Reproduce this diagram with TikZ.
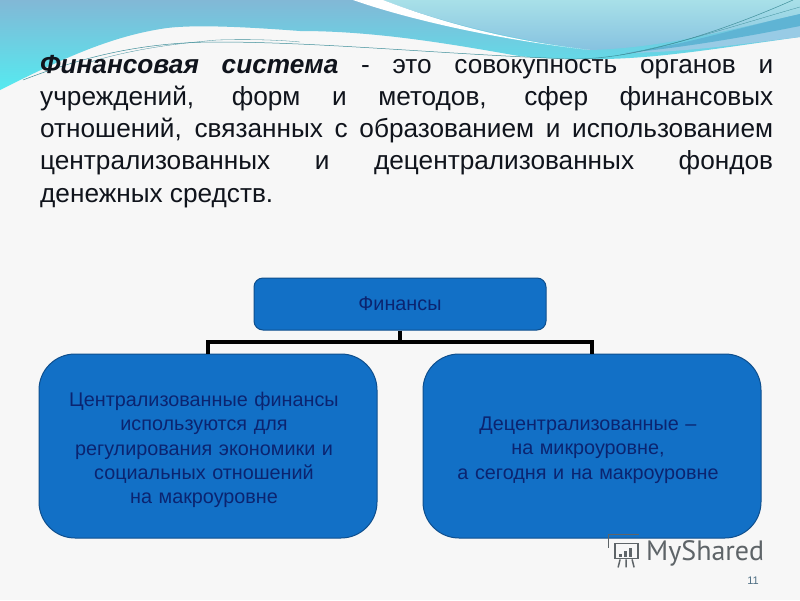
\documentclass[tikz,border=0pt]{standalone}
\usepackage{fontspec}
\usetikzlibrary{positioning}
\setmainfont{Liberation Sans}
\newfontfamily\logofont{PT Sans}
\definecolor{boxblue}{HTML}{1270C6}
\definecolor{boxedge}{HTML}{0E4F8E}
\definecolor{boxtext}{HTML}{0B2470}
\definecolor{headtext}{HTML}{10141C}
\definecolor{wavetop}{HTML}{82B8D6}
\definecolor{wavemid}{HTML}{70C4DC}
\definecolor{wavelow}{HTML}{55EAF0}
\definecolor{waveteal}{HTML}{A8E0E8}
\definecolor{wavesky}{HTML}{86C2E0}
\definecolor{wavedeep}{HTML}{5FB4D4}
\definecolor{waveline}{HTML}{3F8F9A}
\definecolor{logogray}{HTML}{5E6468}
\definecolor{pagegray}{HTML}{4F6F84}
\begin{document}
\begin{tikzpicture}[x=1pt, y=-1pt, node distance=38pt,
    rootbox/.style={rectangle, draw=boxedge, fill=boxblue, line width=1pt, rounded corners=9pt, minimum width=292pt, minimum height=52pt, text=boxtext, font=\fontsize{19.8}{24}\selectfont},
    bigbox/.style={rectangle, draw=boxedge, fill=boxblue, line width=1pt, rounded corners=36pt, minimum width=338pt, minimum height=184pt, text width=320pt, align=center, text=boxtext, font=\fontsize{19.8}{24.4}\selectfont, execute at begin node={\advance\rightskip by 8pt}, execute at end node={\endgraf\vspace*{-8pt}}},
    bus/.style={draw=black, line width=4.5pt},
    thinwave/.style={draw=waveline, line width=0.5pt}]

  \useasboundingbox (0,0) rectangle (800,600);
  \fill[white!97!black] (0,0) rectangle (800,600);

  % waves along the top edge
  \shade[top color=wavetop, middle color=wavemid, bottom color=wavelow]
    (0,0) -- (800,0) -- (800,37) .. controls (720,48) and (650,60) .. (590,59)
    .. controls (560,59) and (530,58) .. (513,55) .. controls (440,42) and (370,31) .. (300,31)
    .. controls (260,28) and (200,24) .. (167,28) .. controls (110,36) and (60,60) .. (0,90) -- cycle;
  \shade[top color=waveteal, bottom color=wavesky]
    (383,0) -- (800,0) -- (800,14) .. controls (720,32) and (660,48) .. (590,50)
    .. controls (530,42) and (450,26) .. (383,0) -- cycle;
  \fill[white] (353,0) .. controls (410,20) and (500,40) .. (590,50)
    .. controls (520,42) and (450,26) .. (383,0) -- cycle;
  \fill[wavesky!85!white] (800,20) .. controls (730,36) and (680,48) .. (625,53)
    .. controls (690,52) and (740,44) .. (800,37) -- cycle;
  \fill[wavedeep] (800,14) .. controls (730,30) and (680,46) .. (625,53)
    .. controls (680,48) and (740,38) .. (800,26) -- cycle;
  \draw[thinwave] (23,80) .. controls (80,58) and (140,42) .. (217,42)
    .. controls (320,42) and (440,54) .. (570,59) .. controls (640,60) and (730,28) .. (793,0);
  \draw[thinwave, line width=0.3pt] (90,62) .. controls (130,50) and (170,44) .. (217,40)
    .. controls (250,39) and (280,40) .. (300,42);
  \draw[thinwave, line width=0.3pt] (620,55) .. controls (680,44) and (740,24) .. (800,7);

  % heading
  \node[text width=733pt, align=justify, inner sep=0pt, text=headtext, anchor=north west, font=\fontsize{26.2}{32.2}\selectfont] (heading) at (40,55)
    {\textbf{\textit{Финансовая система}} - это совокупность органов и\linebreak
     учреждений, форм и методов, сфер финансовых\linebreak
     отношений, связанных с образованием и использованием\linebreak
     централизованных и децентрализованных фондов\linebreak
     денежных средств.};

  \node[rootbox] (finance) at (400,304) {Финансы};
  \node[coordinate, below of=finance] (busmid) {};
  \node[bigbox] (central) at (208,446) {Централизованные финансы\\используются для\\регулирования экономики и\\социальных отношений\\на макроуровне};
  \node[bigbox] (local) at (592,446) {Децентрализованные --\\на микроуровне,\\а сегодня и на макроуровне};

  \draw[bus] (finance) -- (busmid);
  \draw[bus] (central.north) |- (busmid) -| (local.north);

  % logo
  \node[text=logogray, anchor=west, inner sep=0pt, font=\logofont\fontsize{28}{30}\selectfont] (logoname) at (646,553) {MyShared};
  \node[draw=logogray, line width=1.8pt, minimum width=23pt, minimum height=15pt, inner sep=0pt, left=7.5pt of logoname, yshift=2pt] (logoboard) {};
  \foreach \i/\h in {0/3,1/6,2/9}
    \fill[logogray] ([xshift=\i*5pt+5pt, yshift=2pt]logoboard.south west) rectangle ++(3,-\h);
  \draw[logogray, line width=1.5pt] (logoboard.north west) ++(-5,5) -- ++(0,-13) -- ++(30,0) ;
  \draw[logogray, line width=1.5pt] (logoboard.south) -- ++(0,8) (logoboard.south) ++(-6,0) -- ++(-2,8) (logoboard.south) ++(6,0) -- ++(2,8);

  \node[text=pagegray, font=\fontsize{11}{13}\selectfont, inner sep=0pt] (pagenum) at (753,581) {11};
\end{tikzpicture}
\end{document}
